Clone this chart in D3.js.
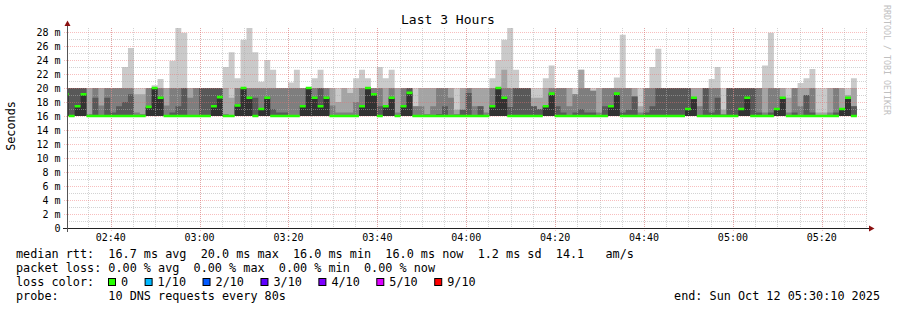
<!DOCTYPE html>
<html>
<head>
<meta charset="utf-8">
<script src="https://cdn.jsdelivr.net/npm/d3@7"></script>
<style>
body { margin: 0; background: #fff; }
svg text { font-family: "DejaVu Sans Mono", monospace; white-space: pre; fill: #000; }
</style>
</head>
<body>
<div id="container"></div>
<script>
var w = 897;
var h = 310;

// time span of the graph, one smokeping step = 80 s
var startTime = "2025-10-12T02:30:10Z";
var endTime = "2025-10-12T05:30:10Z";
var firstStep = "2025-10-12T02:29:13Z";
var stepSeconds = 80;

// all pings bottom out at 16 ms
var pingFloor = 16;

// smoke layers (ms): outer ping (max), then inner pings going towards the median
var rttMax = [
  20,20,20,20,20,20,20,20,20,20,
  23,25.7,20,20,20,20.4,21.3,20,23.9,28.6,
  27.9,20,20,20,20,20,20,23,25.1,21.4,
  26.9,28.6,25.1,20.9,24,22.6,20,20,20.8,22.6,
  20,20,21.4,22.6,20,20,20,20,20,21.4,
  22.6,21.4,20,23,21.4,22.6,20,20,20,20,
  20,20,20,20,20,20,20,20,20,20,
  20,20,21.4,24,26.9,28.6,22.6,20,20,20,
  20,21.4,23.2,20,20,20,20,22.6,20,20,
  20,20,20,21.5,27.6,20,20,20,20,23,
  25.6,20,20,20,20,20,20,20,20,21.3,
  23,20,20,20,20,20,20,20,23.2,27.9,
  20,20,20,20,20.7,21.4,22.7,20,20,20,
  20,20,20,21.4,null,null
];
var rttP9 = [
  20,20,20,20,20,20,20,20,20,20,
  20,20,19.1,19.1,20,20,20,20,20,20,
  20,20,20,20,20,20,20,20,18.6,20,
  20,20,20,20,20,20,20,20,20,20,
  20,20,20,20,20,20,18,20,19.3,20,
  20,20,20,20,20,20,20,20,20,17.4,
  20,20,20,20,20,20,16.9,20,20,20,
  20,20,20,20,22.6,20,20,20,20,18.6,
  18.6,20,20,20,20,20,19.1,22.6,20,19.6,
  20,20,20,20,20,20,20,17.4,20,20,
  20,20,20,20,20,20,20,20,20,20,
  20,16.9,20,20,20,20,20,20,20,20,
  20,20,18.6,20,20,20,20,16.5,16.5,20,
  20,20,19,20,null,null
];
var rttP8 = [
  20,20,20,20,16.3,20,17.5,20,20,20,
  20,20,16.5,16.3,20,20,20,17.5,20,20,
  20,18.6,20,20,20,20,20,16.3,16,20,
  20,20,20,20,20,20,20,20,20,20,
  20,20,20,20,20,17.5,16.5,16.5,16.5,18,
  20,20,20,20,17.4,20,16.5,20,20,17.4,
  17.4,16.3,17.4,20,20,18.6,16.3,16.9,20,17.4,
  17.4,16.5,20,20,20,20,20,20,20,17.4,
  17,17.4,20,20,20,17.4,19.1,20,20,19.6,
  16.5,20,20,20,20,20,18.8,16.5,20,20,
  20,20,20,20,20,20,18.6,17.4,20,20,
  20,16.3,20,20,20,20,20,20,16.5,20,
  20,18.6,16.5,20,17.4,19,20,16,16,16.5,
  20,17,18.6,17.4,null,null
];
var rttP7 = [
  20,20,20,20,16,18.6,16,18.6,16.5,17.4,
  18,19.1,16,16,17.3,20,18.6,16,16.5,17.4,
  20,16,16,20,20,20,20,16,16,17.5,
  20,18.6,18.6,17,18.6,17,16.5,16.5,16,16,
  17.4,20,18.6,20,18.6,16,16,16,16,16,
  17.4,20,19.1,17.4,17.4,18.6,16,17.4,20,16,
  16,16,16,16.3,17.4,16,16,16.9,19.3,16,
  17.4,16,17.4,20,18.6,17.3,20,20,20,17.4,
  17,17.4,19.2,17.4,16.5,16,16.5,17,16.5,16.5,
  16,17.4,17.4,19.2,16.5,16.9,18.8,16,16.5,17.4,
  20,20,20,20,20,20,18.6,16,20,16.5,
  18.6,16,20,20,20,20,20,16.5,16,16.5,
  17,18.6,16,16.5,16,19,16.5,16,16,16,
  16.5,17,18.6,17.4,null,null
];
var rttMedian = [
  19.1,16,17.4,19.1,16,16,16,16,16,16,
  16,16,16,16,17.3,20,18.6,16,16,16,
  16,16,16,16,16,17.4,18.7,16,16,17.5,
  20,18.6,16,17,18.6,16,16,16,16,16,
  17.4,20,18.6,17.4,18.6,16,16,16,16,16,
  17.4,20,19.1,16,17.4,18.6,16,17.4,19.3,16,
  16,16,16,16,16,16,16,16,16,16,
  16,16,17.4,20,18.6,16,16,16,16,16,
  16,17.4,19.2,16,16,16,16,16,16,16,
  16,16,17.4,19.2,16,16,16,16,16,16,
  16,16,16,16,16,17,18.6,16,16,16,
  16,16,16,16,17,18.6,16,16,16,16,
  17,18.6,16,16,16,16,16,16,16,16,
  16,17,18.6,16,null,null
];

var smokeColors = ["#cacaca", "#a4a4a4", "#7e7e7e", "#585858", "#323232"];
var medianColor = "#26ff00";

var yTicks = [0,2,4,6,8,10,12,14,16,18,20,22,24,26,28];
var yMinor = [1,3,5,7,9,11,13,15,17,19,21,23,25,27];

var statLines = [
  "median rtt:  16.7 ms avg  20.0 ms max  16.0 ms min  16.0 ms now  1.2 ms sd  14.1   am/s",
  "packet loss: 0.00 % avg  0.00 % max  0.00 % min  0.00 % now"
];
var lossLabels = ["0", "1/10", "2/10", "3/10", "4/10", "5/10", "9/10"];
var lossColors = ["#26ff00", "#00b8ff", "#0059ff", "#5e00ff", "#7e00ff", "#dd00ff", "#ff0000"];
var probeText = "probe:       10 DNS requests every 80s";
var endText = "end: Sun Oct 12 05:30:10 2025";

var svg = d3.select("div#container")
    .append("svg")
    .attr("width", w)
    .attr("height", h)
    .style("background-color", "#fff");

var x = d3.scaleUtc().domain([new Date(startTime), new Date(endTime)]).range([67, 867]);
var y = d3.scaleLinear().domain([0, 200 / 7]).range([228, 28]);

svg.append("defs").append("clipPath").attr("id", "plot")
  .append("rect").attr("x", 67).attr("y", 28).attr("width", 800).attr("height", 200);

// one step per 80 s column
var t0 = new Date(firstStep).getTime();
function steps(vals) {
  var pts = [];
  vals.forEach(function(v, i) {
    var a = new Date(t0 + i * stepSeconds * 1000);
    var b = new Date(t0 + (i + 1) * stepSeconds * 1000);
    pts.push({t: a, v: v}, {t: b, v: v});
  });
  return pts;
}

var smokeArea = d3.area()
    .defined(d => d.v != null)
    .x(d => x(d.t))
    .y0(y(pingFloor))
    .y1(d => y(d.v));

var g = svg.append("g").attr("clip-path", "url(#plot)");
[rttMax, rttP9, rttP8, rttP7, rttMedian].forEach(function(layer, i) {
  g.append("path")
    .attr("d", smokeArea(steps(layer)))
    .attr("fill", smokeColors[i]);
});

// grid on top of the smoke
var minorCol = "rgba(175,175,175,0.55)";
var majorCol = "rgba(240,110,110,0.45)";
var grid = svg.append("g");
grid.selectAll(".hmin").data(yMinor).enter().append("line")
  .attr("x1", 67).attr("x2", 867)
  .attr("y1", d => Math.round(y(d)) + 0.5).attr("y2", d => Math.round(y(d)) + 0.5)
  .attr("stroke", minorCol).attr("stroke-dasharray", "1,1");
grid.selectAll(".vmin").data(x.ticks(d3.utcMinute.every(5))).enter().append("line")
  .attr("x1", d => Math.round(x(d)) + 0.5).attr("x2", d => Math.round(x(d)) + 0.5)
  .attr("y1", 28).attr("y2", 228)
  .attr("stroke", minorCol).attr("stroke-dasharray", "1,1");
grid.selectAll(".hmaj").data(yTicks.slice(1)).enter().append("line")
  .attr("x1", 64).attr("x2", 867)
  .attr("y1", d => Math.round(y(d)) + 0.5).attr("y2", d => Math.round(y(d)) + 0.5)
  .attr("stroke", majorCol).attr("stroke-dasharray", "1,1");
grid.selectAll(".vmaj").data(x.ticks(d3.utcMinute.every(20))).enter().append("line")
  .attr("x1", d => Math.round(x(d)) + 0.5).attr("x2", d => Math.round(x(d)) + 0.5)
  .attr("y1", 28).attr("y2", 231)
  .attr("stroke", majorCol).attr("stroke-dasharray", "1,1");

// median marks, coloured by loss
var medArea = d3.area()
    .defined(d => d.v != null)
    .x(d => x(d.t))
    .y0(d => y(d.v) + 1.3)
    .y1(d => y(d.v) - 1.3);
svg.append("path")
  .attr("clip-path", "url(#plot)")
  .attr("d", medArea(steps(rttMedian)))
  .attr("fill", medianColor);

// axes
svg.append("line").attr("x1", 63).attr("x2", 870).attr("y1", 228.5).attr("y2", 228.5)
  .attr("stroke", "#222");
svg.append("line").attr("x1", 67.5).attr("x2", 67.5).attr("y1", 232).attr("y2", 23)
  .attr("stroke", "#555");
svg.append("path").attr("d", "M869,225.5L874.5,228.5L869,231.5Z").attr("fill", "#8b1010");
svg.append("path").attr("d", "M64.5,26L67.5,20.5L70.5,26Z").attr("fill", "#8b1010");

svg.selectAll(".ylab").data(yTicks).enter().append("text")
  .attr("x", 60.5).attr("y", d => y(d) + 3.5)
  .attr("text-anchor", "end").attr("font-size", "10px")
  .text(d => d === 0 ? "0" : d + " m");

svg.selectAll(".xlab").data(x.ticks(d3.utcMinute.every(20))).enter().append("text")
  .attr("x", d => x(d)).attr("y", 241)
  .attr("text-anchor", "middle").attr("font-size", "10px")
  .text(d3.utcFormat("%H:%M"));

svg.append("text")
  .attr("transform", "translate(15,126) rotate(-90)")
  .attr("text-anchor", "middle").attr("font-size", "11.8px")
  .text("Seconds");

svg.append("text")
  .attr("x", 448).attr("y", 24)
  .attr("text-anchor", "middle").attr("font-size", "13px")
  .text("Last 3 Hours");

svg.append("text")
  .attr("transform", "translate(884,5) rotate(90)")
  .attr("font-size", "8.3px")
  .style("fill", "#c0c0c0")
  .text("RRDTOOL / TOBI OETIKER");

// legend
svg.selectAll(".stat").data(statLines).enter().append("text")
  .attr("x", 16).attr("y", (d, i) => 258 + i * 14)
  .attr("font-size", "11.8px")
  .text(d => d);

svg.append("text").attr("x", 16).attr("y", 286).attr("font-size", "11.8px").text("loss color:");
var lx = 108;
lossLabels.forEach(function(lab, i) {
  svg.append("rect").attr("x", lx + 0.5).attr("y", 278.5).attr("width", 7).attr("height", 7)
    .attr("fill", lossColors[i]).attr("stroke", "#000").attr("stroke-width", 1);
  var t = svg.append("text").attr("x", lx + 13).attr("y", 286).attr("font-size", "11.8px").text(lab);
  lx = lx + 13 + t.node().getComputedTextLength() + 16.5;
});

svg.append("text").attr("x", 16).attr("y", 300).attr("font-size", "11.8px").text(probeText);
svg.append("text").attr("x", 880).attr("y", 300).attr("text-anchor", "end")
  .attr("font-size", "11.8px").text(endText);
</script>
</body>
</html>
